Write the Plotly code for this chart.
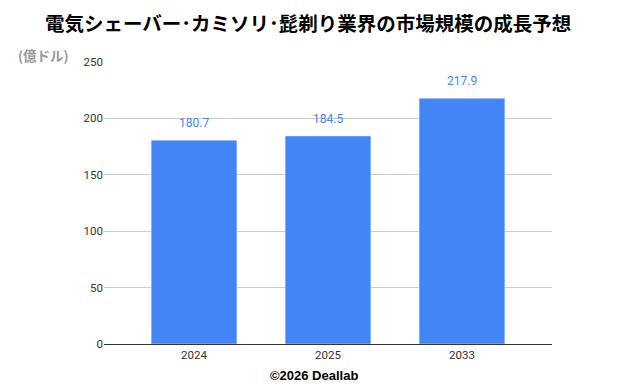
import plotly.graph_objects as go

categories = ["2024", "2025", "2033"]
values = [180.7, 184.5, 217.9]
y_ticks = [0, 50, 100, 150, 200, 250]

title_text = "電気シェーバー･カミソリ･髭剃り業界の市場規模の成長予想"
unit_text = "(億ドル)"
footer_text = "©2026 Deallab"

bar_color = "#4285F4"

fig = go.Figure()
fig.add_trace(go.Bar(
    x=categories, y=values, marker_color=bar_color, width=0.64,
    hoverinfo="x+y",
))

for i, v in enumerate(values):
    fig.add_annotation(x=i, y=v, text=f"{v:.1f}", showarrow=False, yshift=17,
                       font=dict(family="Roboto, Arial", size=12, color=bar_color))

center_shift = (626 / 2) - (104 + 448 / 2)
fig.add_annotation(text=f"<b>{title_text}</b>", xref="paper", yref="paper",
                   x=0.5, y=1, xshift=center_shift - 5, yshift=40, yanchor="middle",
                   showarrow=False,
                   font=dict(family="Noto Sans CJK JP", size=19.5, color="#000"))
fig.add_annotation(text=f"<b>{unit_text}</b>", xref="paper", yref="paper", x=0, y=1,
                   xshift=-88, yshift=7, xanchor="left", yanchor="middle", showarrow=False,
                   font=dict(family="Noto Sans CJK JP", size=13.5, color="#999"))
fig.add_annotation(text=f"<b>{footer_text}</b>", xref="paper", yref="paper",
                   x=0.5, y=0, xshift=center_shift + 1, yshift=-31, yanchor="middle",
                   showarrow=False,
                   font=dict(family="Liberation Sans, Arial", size=13, color="#000"))

fig.update_layout(
    width=626, height=386,
    margin=dict(l=104, r=74, t=62, b=42),
    plot_bgcolor="#fff", paper_bgcolor="#fff",
    showlegend=False,
    font=dict(family="Roboto, Arial", size=11, color="#444"),
)
fig.update_xaxes(type="category", range=[-0.672, 2.672], showgrid=False, ticks="",
                 showline=True, linecolor="#333", linewidth=1,
                 tickfont=dict(size=11.5, color="#333"))
fig.update_yaxes(range=[0, 250], tickvals=y_ticks, showgrid=True, gridcolor="#ccc",
                 zeroline=False, showline=False, ticks="",
                 tickfont=dict(size=11.5, color="#333"))

fig.write_html("out.html", config={"displayModeBar": False},
               post_script="document.body.style.margin='0';")
